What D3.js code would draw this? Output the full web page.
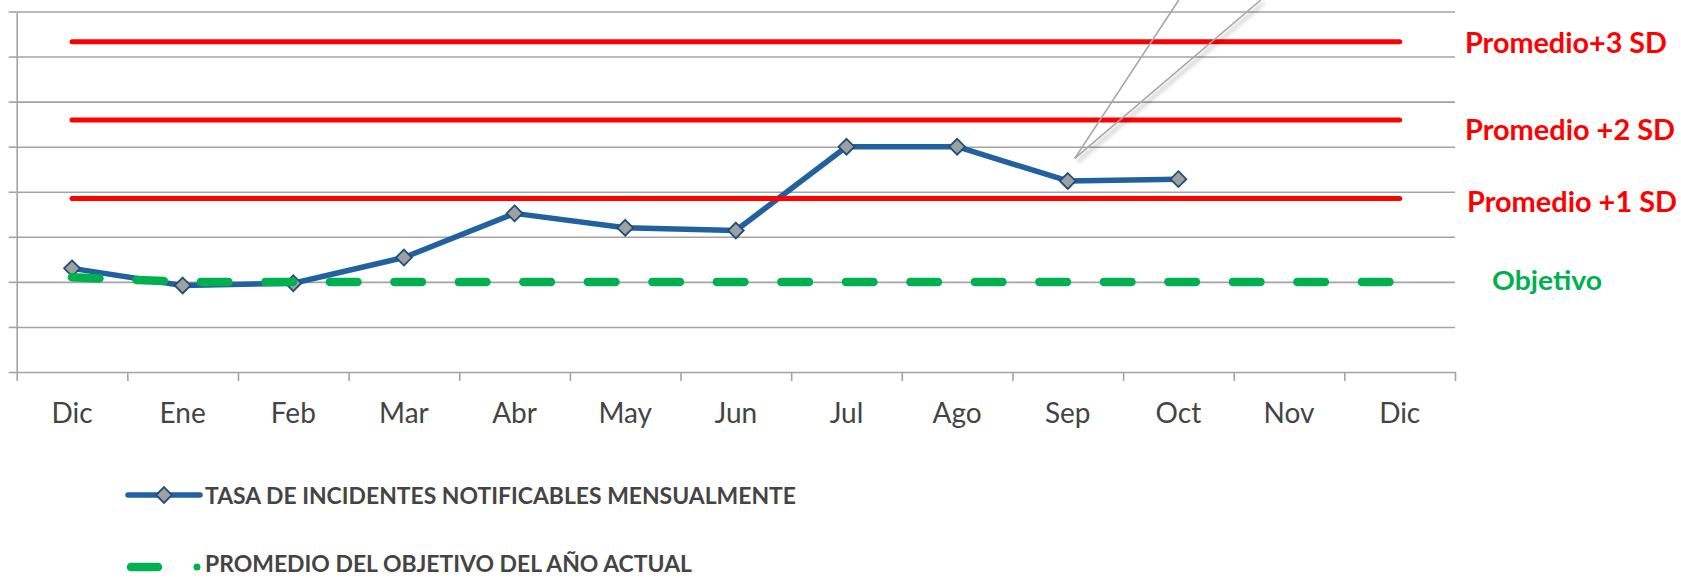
<!DOCTYPE html>
<html>
<head>
<meta charset="utf-8">
<script src="https://cdn.jsdelivr.net/npm/d3@7"></script>
<style>
    body { margin: 0; background: #fff; }
    svg { display: block; font-family: Lato, "Open Sans", sans-serif; }
</style>
</head>
<body>
<svg id="chart"></svg>
<script>
const width = 1681;
const height = 578;

// categories and series (values in chart units, one gridline = 1)
const months = ['Dic', 'Ene', 'Feb', 'Mar', 'Abr', 'May', 'Jun', 'Jul', 'Ago', 'Sep', 'Oct', 'Nov', 'Dic'];
const tasa = [2.30, 1.92, 1.97, 2.54, 3.52, 3.20, 3.14, 5.00, 5.00, 4.24, 4.28];
const objetivo = [2.1, 2.0, 2.0, 2.0, 2.0, 2.0, 2.0, 2.0, 2.0, 2.0, 2.0, 2.0, 2.0];
const limites = [3.85, 5.59, 7.33];
const limiteNames = ['Promedio +1 SD', 'Promedio +2 SD', 'Promedio+3 SD'];
const legendNames = ['TASA DE INCIDENTES NOTIFICABLES MENSUALMENTE', 'PROMEDIO DEL OBJETIVO DEL AÑO ACTUAL'];

const blue = '#22619f';
const red = '#ff0000';
const green = '#00b050';
const grid = '#a3a3a3';
const textGrey = '#444';

const plotLeft = 16.7, plotRight = 1455, plotTop = 11.5, plotBottom = 372;

const svg = d3.select('#chart')
    .attr('width', width)
    .attr('height', height);

const defs = svg.append('defs');
defs.append('filter')
    .attr('id', 'shadow')
    .attr('x', '-20%').attr('y', '-20%')
    .attr('width', '140%').attr('height', '140%')
    .append('feDropShadow')
    .attr('dx', 3).attr('dy', 3)
    .attr('stdDeviation', 2)
    .attr('flood-color', '#000')
    .attr('flood-opacity', 0.4);

const idx = d3.range(months.length);
const x = d3.scaleBand()
    .domain(idx)
    .range([plotLeft, plotRight]);
const xEdge = d3.scaleLinear()
    .domain([0, months.length])
    .range([plotLeft, plotRight]);
const y = d3.scaleLinear()
    .domain([0, 8])
    .range([plotBottom, plotTop]);
const cx = i => x(i) + x.bandwidth() / 2;

// gridlines
svg.append('g')
    .attr('transform', `translate(${plotLeft},0)`)
    .call(d3.axisLeft(y).tickValues(d3.range(1, 9)).tickSize(-(plotRight - plotLeft)).tickFormat(''))
    .call(g => g.select('.domain').remove())
    .selectAll('line')
    .attr('stroke', grid)
    .attr('stroke-width', 1.6);

// y axis with ticks, no labels
svg.append('g')
    .attr('transform', `translate(${plotLeft},0)`)
    .call(d3.axisLeft(y).tickValues(d3.range(0, 9)).tickSize(8).tickSizeOuter(0).tickFormat(''))
    .call(g => g.selectAll('line, path').attr('stroke', grid).attr('stroke-width', 1.6));

// x axis boundaries
svg.append('g')
    .attr('transform', `translate(0,${plotBottom})`)
    .call(d3.axisBottom(xEdge).tickValues(d3.range(months.length + 1)).tickSize(9).tickSizeOuter(0).tickFormat(''))
    .call(g => g.selectAll('line, path').attr('stroke', grid).attr('stroke-width', 1.6));

// month labels
svg.append('g')
    .attr('transform', `translate(0,${plotBottom})`)
    .call(d3.axisBottom(x).tickSize(0).tickPadding(31).tickFormat(i => months[i]))
    .call(g => g.select('.domain').remove())
    .selectAll('text')
    .attr('fill', textGrey)
    .style('font-family', 'Lato, sans-serif')
    .style('font-size', '28px');

const line = d3.line()
    .x((_, i) => cx(i))
    .y(d => y(d));

// blue series
svg.append('path')
    .datum(tasa)
    .attr('d', line)
    .attr('fill', 'none')
    .attr('stroke', blue)
    .attr('stroke-width', 5.5)
    .attr('stroke-linejoin', 'round');

const diamond = d3.symbol().type(d3.symbolDiamond2).size(160);
svg.append('g')
    .selectAll('path')
    .data(tasa)
    .enter().append('path')
    .attr('d', diamond)
    .attr('transform', (d, i) => `translate(${cx(i)},${y(d)})`)
    .attr('fill', '#a0a0a0')
    .attr('stroke', '#1f4e79')
    .attr('stroke-width', 1.8);

// control limits
svg.append('g')
    .selectAll('path')
    .data(limites)
    .enter().append('path')
    .attr('d', v => line(months.map(() => v)))
    .attr('fill', 'none')
    .attr('stroke', red)
    .attr('stroke-width', 5)
    .attr('stroke-linecap', 'round');

// objective
svg.append('path')
    .datum(objetivo)
    .attr('d', line)
    .attr('fill', 'none')
    .attr('stroke', green)
    .attr('stroke-width', 8.5)
    .attr('stroke-linecap', 'round')
    .attr('stroke-dasharray', '27.5 37');

// callout pointer (bubble is above the picture)
const tip = [cx(9) + 7, y(4.74)];
const callout = svg.append('g')
    .attr('fill', 'none')
    .attr('stroke', '#a6a6a6')
    .attr('stroke-width', 1.6);
callout.append('line')
    .attr('x1', tip[0]).attr('y1', tip[1])
    .attr('x2', tip[0] + 186).attr('y2', 0)
    .attr('filter', 'url(#shadow)');
callout.append('line')
    .attr('x1', tip[0]).attr('y1', tip[1])
    .attr('x2', tip[0] + 104).attr('y2', 0);

// right hand labels
const sideLabels = [
    { text: limiteNames[2], x: 1465, y: 52.7, len: 202, size: 28, color: red },
    { text: limiteNames[1], x: 1465, y: 140, len: 210, size: 28, color: red },
    { text: limiteNames[0], x: 1467, y: 212, len: 210, size: 28, color: red },
    { text: 'Objetivo', x: 1492, y: 289.5, len: 110, size: 27, color: green }
];
svg.append('g')
    .selectAll('text')
    .data(sideLabels)
    .enter().append('text')
    .attr('x', d => d.x)
    .attr('y', d => d.y)
    .attr('textLength', d => d.len)
    .attr('lengthAdjust', 'spacingAndGlyphs')
    .style('font-size', d => d.size + 'px')
    .style('font-weight', 'bold')
    .attr('fill', d => d.color)
    .text(d => d.text);

// legend
const legend = svg.append('g');
legend.append('line')
    .attr('x1', 128).attr('x2', 200)
    .attr('y1', 495).attr('y2', 495)
    .attr('stroke', blue)
    .attr('stroke-width', 5.5)
    .attr('stroke-linecap', 'round');
legend.append('path')
    .attr('d', diamond)
    .attr('transform', 'translate(164,495)')
    .attr('fill', '#a0a0a0')
    .attr('stroke', '#1f4e79')
    .attr('stroke-width', 1.8);
legend.append('line')
    .attr('x1', 131).attr('x2', 158)
    .attr('y1', 567).attr('y2', 567)
    .attr('stroke', green)
    .attr('stroke-width', 8.5)
    .attr('stroke-linecap', 'round');
legend.append('circle')
    .attr('cx', 197).attr('cy', 567)
    .attr('r', 3.5)
    .attr('fill', green);
legend.selectAll('text')
    .data(legendNames)
    .enter().append('text')
    .attr('x', 205)
    .attr('y', (_, i) => i ? 572 : 504)
    .attr('textLength', (_, i) => i ? 487 : 591)
    .attr('lengthAdjust', 'spacingAndGlyphs')
    .style('font-size', '22px')
    .style('font-weight', 'bold')
    .attr('fill', textGrey)
    .text(d => d);
</script>
</body>
</html>
